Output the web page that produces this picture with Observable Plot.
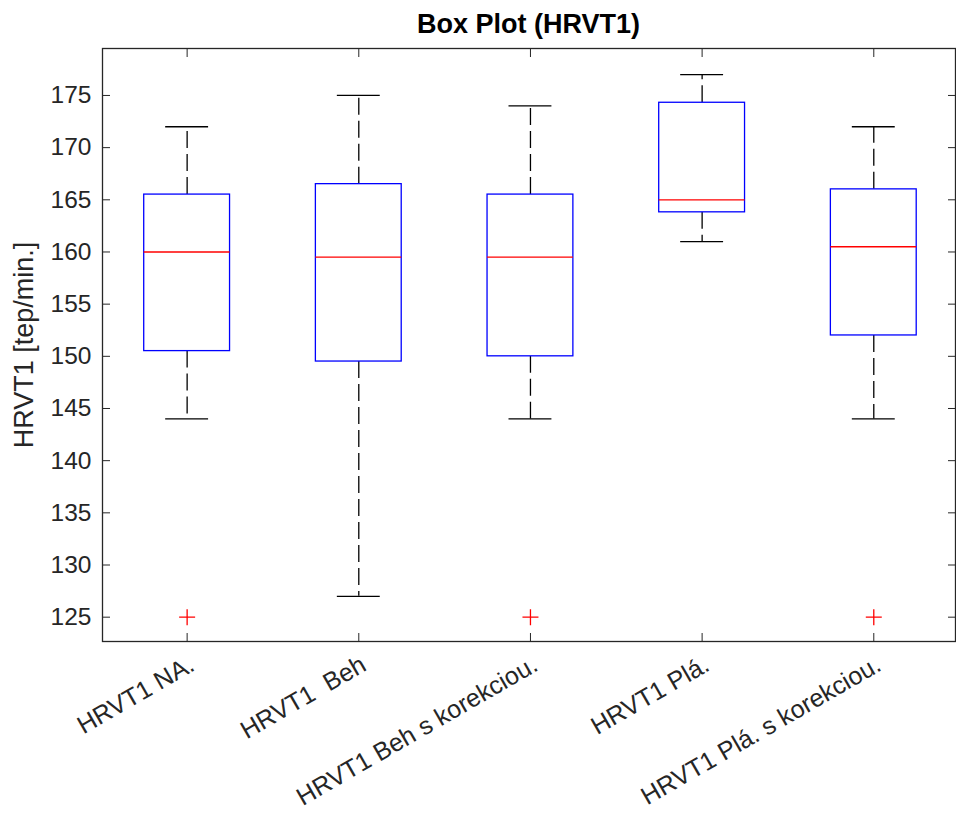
<!DOCTYPE html>
<html>
<head>
<meta charset="utf-8">
<script src="https://cdn.jsdelivr.net/npm/d3@7"></script>
<script src="https://cdn.jsdelivr.net/npm/@observablehq/plot@0.6"></script>
<style>
  body { margin: 0; background: #fff; }
  #wrap { position: relative; width: 956px; height: 821px; }
  #title { position: absolute; top: 10.5px; left: 102px; width: 853px; text-align: center;
           font: bold 27px "Liberation Sans", Arial, sans-serif; line-height: 1; color: #000; }
  #chart { position: absolute; top: 40px; left: 0; }
  svg text { white-space: pre; }
</style>
</head>
<body>
<div id="wrap">
  <div id="title">Box Plot (HRVT1)</div>
  <div id="chart"></div>
</div>
<script>
// ---- data ----
const categories   = ["HRVT1 NA.", "HRVT1  Beh", "HRVT1 Beh s korekciou.", "HRVT1 Plá.", "HRVT1 Plá. s korekciou."];
const positions    = [1, 2, 3, 4, 5];
const whiskerLow   = [144, 127, 144, 161, 144];
const q1           = [150.5, 149.5, 150, 163.8, 152];
const median       = [160, 159.5, 159.5, 165, 160.5];
const q3           = [165.5, 166.5, 165.5, 174.3, 166];
const whiskerHigh  = [172, 175, 174, 177, 172];
const outlierPos   = [1, 3, 5];
const outlierValue = [125, 125, 125];
const yTicks       = [125, 130, 135, 140, 145, 150, 155, 160, 165, 170, 175];
const yLabel       = "HRVT1 [tep/min.]";

// ---- tables built from the arrays ----
const boxes = categories.map((c, i) => ({
  name: c, pos: positions[i], lo: whiskerLow[i], q1: q1[i], med: median[i], q3: q3[i], hi: whiskerHigh[i]
}));
const outliers = outlierPos.map((p, i) => ({pos: p, value: outlierValue[i]}));

const boxHalf = 0.25, capHalf = 0.125;
const ink = "#262626";
const font = '"Liberation Sans", Arial, sans-serif';

const plusSymbol = {
  draw(context, size) {
    const r = Math.sqrt(size / Math.PI);
    context.moveTo(-r, 0); context.lineTo(r, 0);
    context.moveTo(0, -r); context.lineTo(0, r);
  }
};

const chart = Plot.plot({
  width: 956,
  height: 781,
  marginLeft: 102,
  marginRight: 1,
  marginTop: 8,
  marginBottom: 180,
  style: {fontFamily: font, fontSize: "24.5px", color: ink, background: "#fff"},
  x: {domain: [0.507, 5.476], axis: null},
  y: {domain: [122.67, 179.5], axis: null},
  marks: [
    // y axis (left: labels + inward ticks; right: inward ticks)
    Plot.axisY({anchor: "left", ticks: yTicks, tickSize: -8, tickPadding: 19, label: null,
                stroke: ink, fill: ink, fontSize: 24.5}),
    Plot.axisY({anchor: "right", ticks: yTicks, tickSize: -8, tickFormat: () => "", label: null, stroke: ink}),
    // x axis inward ticks (bottom + top)
    Plot.axisX({anchor: "bottom", ticks: positions, tickSize: -8, tickFormat: () => "", label: null, stroke: ink}),
    Plot.axisX({anchor: "top", ticks: positions, tickSize: -8, tickFormat: () => "", label: null, stroke: ink}),
    // rotated category labels
    Plot.text(boxes, {x: "pos", text: "name", frameAnchor: "bottom", rotate: -30, textAnchor: "end",
                      dx: 9, dy: 28, fill: ink, fontSize: 25}),
    // y label
    Plot.text([yLabel], {frameAnchor: "left", rotate: -90, textAnchor: "middle", dx: -78, fill: ink, fontSize: 27}),
    // whiskers (dashed, drawn from box outward)
    Plot.ruleX(boxes, {x: "pos", y1: "q3", y2: "hi", stroke: "#000", strokeWidth: 1.3, strokeDasharray: "17,6"}),
    Plot.ruleX(boxes, {x: "pos", y1: "q1", y2: "lo", stroke: "#000", strokeWidth: 1.3, strokeDasharray: "17,6"}),
    // whisker caps
    Plot.ruleY(boxes, {y: "hi", x1: d => d.pos - capHalf, x2: d => d.pos + capHalf, stroke: "#000", strokeWidth: 1.3}),
    Plot.ruleY(boxes, {y: "lo", x1: d => d.pos - capHalf, x2: d => d.pos + capHalf, stroke: "#000", strokeWidth: 1.3}),
    // boxes
    Plot.rect(boxes, {x1: d => d.pos - boxHalf, x2: d => d.pos + boxHalf, y1: "q1", y2: "q3",
                      fill: "#fff", stroke: "#0000ff", strokeWidth: 1.3}),
    // medians
    Plot.ruleY(boxes, {y: "med", x1: d => d.pos - boxHalf, x2: d => d.pos + boxHalf, stroke: "#ff0000", strokeWidth: 1.3}),
    // outliers
    Plot.dot(outliers, {x: "pos", y: "value", symbol: plusSymbol, r: 8, stroke: "#ff0000", fill: "none", strokeWidth: 1.3}),
    // frame
    Plot.frame({stroke: ink, strokeWidth: 1.3})
  ]
});
document.getElementById("chart").appendChild(chart);
</script>
</body>
</html>
